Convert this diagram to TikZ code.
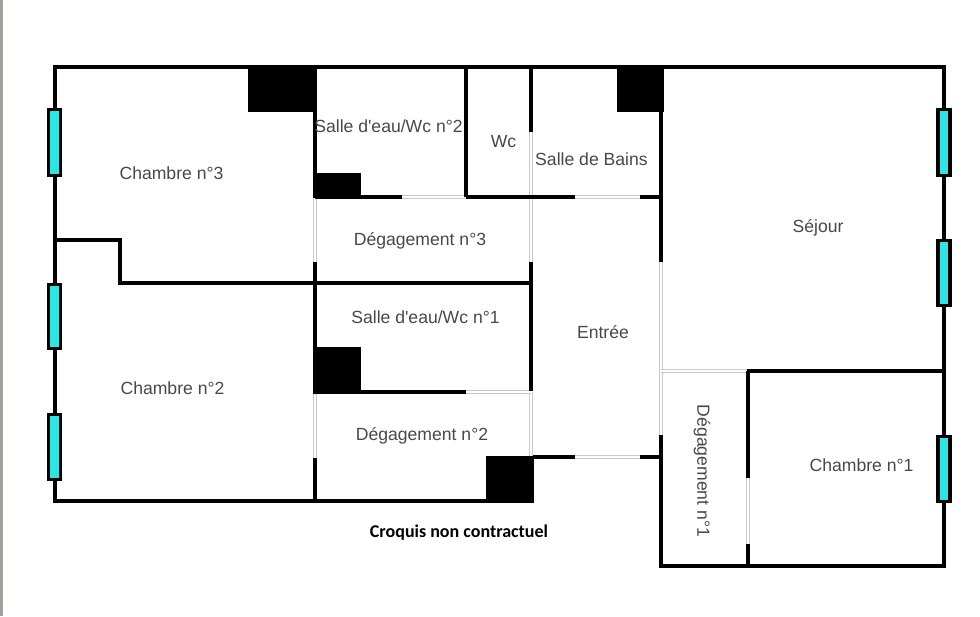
\documentclass[tikz,border=0pt]{standalone}
\usepackage{fontspec}
\setmainfont{Liberation Sans}
\newfontfamily\notefont{Carlito}
\definecolor{wincyan}{HTML}{2CE6E6}
\definecolor{labelgrey}{HTML}{484848}
\definecolor{opengrey}{HTML}{C8C8C8}
\definecolor{edgegrey}{HTML}{A3A39D}
\tikzset{
  wall/.style={line width=4.4pt,black,line cap=rect},
  wallthin/.style={line width=3.9pt,black},
  opening/.style={line width=4.4pt,opengrey},
  openingcore/.style={line width=1.6pt,white},
  shaft/.style={fill=black,draw=none},
  windowbox/.style={fill=wincyan,draw=black,line width=3.2pt},
  roomlabel/.style={font=\fontsize{17.6}{20}\selectfont,text=labelgrey,inner sep=0pt},
  notelabel/.style={font=\notefont\bfseries\fontsize{18}{21}\selectfont,text=black,inner sep=0pt}
}
\begin{document}
\begin{tikzpicture}[x=1pt,y=-1pt]
\useasboundingbox (0,0) rectangle (980,616);
\fill[white] (0,0) rectangle (980,616);
\fill[edgegrey] (0,0) rectangle (3,616);
% openings
\foreach \a/\b/\c/\d in {315/197/315/262, 315/393/315/458, 531/132/531/262, 531/392/531/457,
  402/197/466/197, 575/197/640/197, 466/392/531/392, 575/457/640/457,
  661/262/661/437, 661/371/749/371, 748/478/748/544}{
  \draw[opening] (\a,\b) -- (\c,\d);
  \draw[openingcore] (\a,\b) -- (\c,\d);
}
% walls
\draw[wall] (55,67) -- (944,67) -- (944,566) -- (661,566) -- (661,437);
\draw[wall] (55,67) -- (55,501) -- (532,501);
\draw[wall] (55,240) -- (120,240) -- (120,283) -- (531,283);
\draw[wallthin] (315,67) -- (315,197);
\draw[wallthin] (315,262) -- (315,393);
\draw[wallthin] (315,458) -- (315,501);
\draw[wallthin] (466,67) -- (466,197);
\draw[wallthin] (531,67) -- (531,132);
\draw[wallthin] (531,262) -- (531,391);
\draw[wallthin] (661,67) -- (661,262);
\draw[wallthin] (315,197) -- (402,197);
\draw[wallthin] (466,197) -- (575,197);
\draw[wallthin] (640,197) -- (661,197);
\draw[wallthin] (315,392) -- (466,392);
\draw[wallthin] (533,457) -- (575,457);
\draw[wallthin] (640,457) -- (661,457);
\draw[wall] (749,371) -- (944,371);
\draw[wallthin] (748,371) -- (748,478);
\draw[wallthin] (748,544) -- (748,566);
% shafts
\fill[shaft] (248,66) rectangle (317,112);
\fill[shaft] (617,66) rectangle (664,112);
\fill[shaft] (313,173) rectangle (361,198);
\fill[shaft] (313,347) rectangle (361,394);
\fill[shaft] (486,456) rectangle (534,503);
% windows
\foreach \x/\t/\u in {54.5/109.5/175.5, 54.5/284.5/348.5, 54.5/414.5/479.5, 944/109.5/175.5, 944/240.5/305.5, 944/436.5/501.5}{
  \draw[windowbox] (\x-6,\t) rectangle (\x+6,\u);
}
% labels
\node[roomlabel] (ch3) at (171.5,173) {Chambre n°3};
\node[roomlabel] (se2) at (388.5,126) {Salle d\textquotesingle eau/Wc n°2};
\node[roomlabel] (wc) at (503.5,142) {Wc};
\node[roomlabel] (sdb) at (591.5,159) {Salle de Bains};
\node[roomlabel] (deg3) at (420,241) {Dégagement n°3};
\node[roomlabel] (sej) at (818,228) {Séjour};
\node[roomlabel] (se1) at (425.5,317) {Salle d\textquotesingle eau/Wc n°1};
\node[roomlabel] (ent) at (603,332) {Entrée};
\node[roomlabel] (ch2) at (172.5,388) {Chambre n°2};
\node[roomlabel] (deg2) at (422,436) {Dégagement n°2};
\node[roomlabel] (ch1) at (861.5,465) {Chambre n°1};
\node[roomlabel,rotate=-90] (deg1) at (702,471) {Dégagement n°1};
\node[notelabel] (note) at (459,533) {Croquis non contractuel};
\end{tikzpicture}
\end{document}
